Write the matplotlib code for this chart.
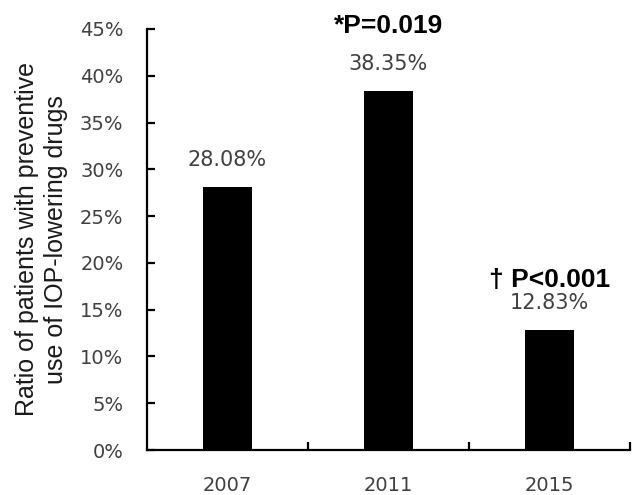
import numpy as np
import matplotlib
matplotlib.use('Agg')
import matplotlib.pyplot as plt

# data
years = ['2007', '2011', '2015']
ratios = [28.08, 38.35, 12.83]
ratio_labels = ['28.08%', '38.35%', '12.83%']
y_ticks = [0, 5, 10, 15, 20, 25, 30, 35, 40, 45]
sig_labels = {1: '*P=0.019', 2: '\u2020 P<0.001'}
sig_y = {1: 45.3, 2: 18.2}

gray = '#404040'

fig = plt.figure(figsize=(6.34, 4.95), dpi=100)
ax = fig.add_axes([147 / 634, 45 / 495, 483 / 634, 421 / 495])

x = np.arange(len(years))
bars = ax.bar(x, ratios, width=0.31, color='black', zorder=2)

# value labels above bars
for xi, val, lab in zip(x, ratios, ratio_labels):
    ax.annotate(lab, (xi, val), xytext=(0, 19.5), textcoords='offset points',
                ha='center', va='center', fontsize=15, color=gray,
                family='DejaVu Sans')

# significance markers
for xi, lab in sig_labels.items():
    ax.text(xi, sig_y[xi], lab, ha='center', va='center', fontsize=19,
            fontweight='bold', family='Liberation Sans', color='black',
            clip_on=False)

ax.set_xlim(-0.5, 2.5)
ax.set_ylim(0, 45)
ax.set_yticks(y_ticks)
ax.set_yticklabels([f'{t}%' for t in y_ticks])
ax.set_xticks(x)
ax.set_xticklabels(years)
ax.set_xticks([0.5, 1.5, 2.5], minor=True)

ax.spines['top'].set_visible(False)
ax.spines['right'].set_visible(False)
for s in ['left', 'bottom']:
    ax.spines[s].set_linewidth(1.6)
    ax.spines[s].set_color('black')

ax.tick_params(axis='y', direction='in', length=6, width=1.6, pad=17,
               labelsize=14, labelcolor=gray)
ax.tick_params(axis='x', which='major', length=0, pad=19,
               labelsize=14, labelcolor=gray)
ax.tick_params(axis='x', which='minor', direction='in', length=6, width=1.6)
for lab in ax.get_xticklabels() + ax.get_yticklabels():
    lab.set_family('DejaVu Sans')

fig.text(41.5 / 634, 1 - 239.5 / 495,
         'Ratio of patients with preventive\nuse of IOP-lowering drugs',
         rotation=90, ha='center', va='center', multialignment='center',
         fontsize=18, family='Liberation Sans', color='#1a1a1a',
         linespacing=1.25)

fig.savefig('out.png', dpi=100)
